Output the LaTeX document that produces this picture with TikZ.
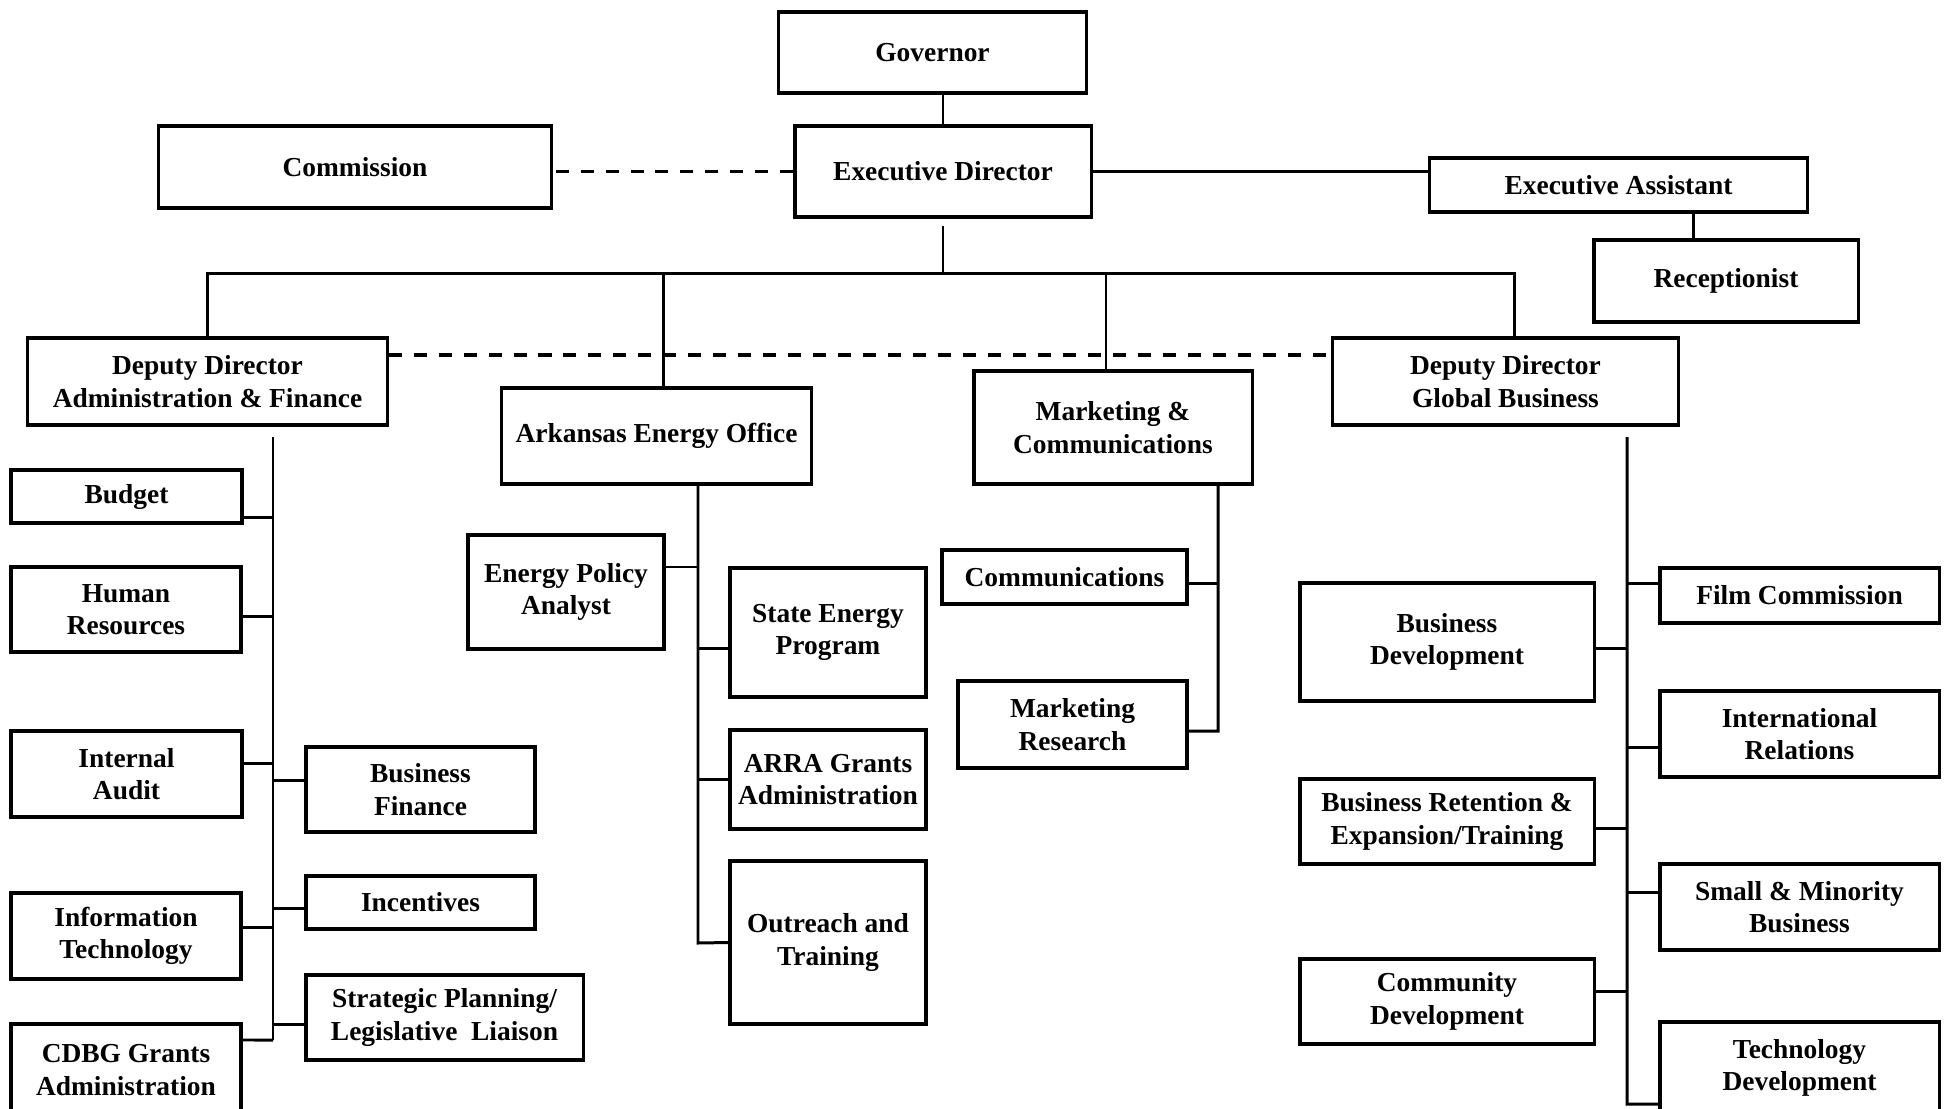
\documentclass[tikz,border=0pt]{standalone}
\usepackage{fontspec}
\setmainfont{Liberation Serif}

\begin{document}
\begin{tikzpicture}[x=0.01cm,y=-0.01cm,font=\bfseries\fontsize{7.8}{9.2}\selectfont,
    box/.style={draw,line width=0.9pt,align=center,inner sep=1pt},
    conn/.style={line width=0.85pt},
    link/.style={line width=0.9pt,dash pattern=on 3.7pt off 3.4pt}]
                \useasboundingbox (0,0) rectangle (1950,1108);
                % top of the chart
                \node[box,minimum width=3.07cm,minimum height=0.81cm] (gov) at (932.5,52.5) {Governor};
                \node[box,minimum width=2.96cm,minimum height=0.91cm] (exd) at (943,171.5) {Executive Director};
                \node[box,minimum width=3.92cm,minimum height=0.82cm] (com) at (355,167) {Commission};
                \node[box,minimum width=3.77cm,minimum height=0.54cm] (ea) at (1618.5,185) {Executive Assistant};
                \node[box,minimum width=2.64cm,minimum height=0.82cm] (rec) at (1726,281) {Receptionist};
                \node[box,minimum width=3.59cm,minimum height=0.87cm] (ddaf) at (207.5,381.5) {Deputy Director\\Administration \& Finance};
                \node[box,minimum width=3.09cm,minimum height=0.96cm] (aeo) at (656.5,436) {Arkansas Energy Office};
                \node[box,minimum width=2.78cm,minimum height=1.13cm] (mc) at (1113,427.5) {Marketing \&\\Communications};
                \node[box,minimum width=3.45cm,minimum height=0.87cm] (ddgb) at (1505.5,381.5) {Deputy Director\\Global Business};
                % administration & finance
                \node[box,minimum width=2.31cm,minimum height=0.53cm] (bud) at (126.5,496.5) {Budget};
                \node[box,minimum width=2.30cm,minimum height=0.85cm] (hr) at (126,609.5) {Human\\Resources};
                \node[box,minimum width=2.31cm,minimum height=0.86cm] (ia) at (126.5,774) {Internal\\Audit};
                \node[box,minimum width=2.29cm,minimum height=0.85cm] (bf) at (420.5,789.5) {Business\\Finance};
                \node[box,minimum width=2.29cm,minimum height=0.53cm] (inc) at (420.5,902.5) {Incentives};
                \node[box,minimum width=2.30cm,minimum height=0.86cm] (it) at (126,936) {Information\\Technology};
                \node[box,minimum width=2.77cm,minimum height=0.85cm] (spl) at (444.5,1017.5) {Strategic Planning/\\Legislative\ \ Liaison};
                \node[box,minimum width=2.30cm,minimum height=0.92cm] (cdbg) at (126,1070) {CDBG Grants\\Administration};
                % energy office
                \node[box,minimum width=1.96cm,minimum height=1.14cm] (epa) at (566,592) {Energy Policy\\Analyst};
                \node[box,minimum width=1.96cm,minimum height=1.29cm] (sep) at (828,632.5) {State Energy\\Program};
                \node[box,minimum width=1.96cm,minimum height=0.99cm] (arra) at (828,779.5) {ARRA Grants\\Administration};
                \node[box,minimum width=1.96cm,minimum height=1.63cm] (ot) at (828,942.5) {Outreach and\\Training};
                % marketing
                \node[box,minimum width=2.45cm,minimum height=0.54cm] (comm) at (1064.5,577) {Communications};
                \node[box,minimum width=2.29cm,minimum height=0.87cm] (mr) at (1072.5,724.5) {Marketing\\Research};
                % global business
                \node[box,minimum width=2.94cm,minimum height=1.18cm] (bd) at (1447,642) {Business\\Development};
                \node[box,minimum width=2.79cm,minimum height=0.55cm] (fc) at (1799.5,595.5) {Film Commission};
                \node[box,minimum width=2.79cm,minimum height=0.86cm] (ir) at (1799.5,734) {International\\Relations};
                \node[box,minimum width=2.94cm,minimum height=0.85cm] (bre) at (1447,821.5) {Business Retention \&\\Expansion/Training};
                \node[box,minimum width=2.79cm,minimum height=0.86cm] (smb) at (1799.5,907) {Small \& Minority\\Business};
                \node[box,minimum width=2.94cm,minimum height=0.85cm] (cd) at (1447,1001.5) {Community\\Development};
                \node[box,minimum width=2.79cm,minimum height=0.92cm] (td) at (1799.5,1068) {Technology\\Development};
                % spines
                \coordinate (busL) at (207.5,273);
                \coordinate (busR) at (1514,273);
                \coordinate (adminTop) at (273,437);
                \coordinate (adminBot) at (273,1040);
                \coordinate (energyBot) at (698,943);
                \coordinate (mktBot) at (1218,731);
                \coordinate (globTop) at (1627,437);
                \coordinate (globBot) at (1627,1104);
                % top links
                \draw[conn] (exd.north) -- (exd.north |- gov.south);
                \draw[link] (exd.west) -- (exd.west -| com.east);
                \draw[conn] (exd.east) -- (exd.east -| ea.west);
                \draw[conn] ([xshift=-0.32cm]rec.north) -- ([xshift=-0.32cm]rec.north |- ea.south);
                \draw[conn,shorten <=0.07cm] (exd.south) -- (exd.south |- busL);
                \draw[conn] (ddaf.north) -- (busL) -- (busR) -- (busR |- ddgb.north);
                \draw[conn] ([xshift=0.065cm]aeo.north) -- ([xshift=0.065cm]aeo.north |- busL);
                \draw[conn] ([xshift=-0.07cm]mc.north) -- ([xshift=-0.07cm]mc.north |- busL);
                \draw[link] ([yshift=0.265cm]ddaf.east) -- ([yshift=0.265cm]ddgb.west);
                % administration & finance branches
                \draw[conn] (adminTop) -- (adminBot);
                \draw[conn] ([yshift=-0.205cm]bud.east) -- ([yshift=-0.205cm]bud.east -| adminTop);
                \draw[conn] ([yshift=-0.065cm]hr.east) -- ([yshift=-0.065cm]hr.east -| adminTop);
                \draw[conn] ([yshift=0.11cm]ia.east) -- ([yshift=0.11cm]ia.east -| adminTop);
                \draw[conn] ([yshift=0.09cm]it.east) -- ([yshift=0.09cm]it.east -| adminTop);
                \draw[conn] ([yshift=0.3cm]cdbg.east) -- (adminBot);
                \draw[conn] ([yshift=0.095cm]bf.west) -- ([yshift=0.095cm]bf.west -| adminTop);
                \draw[conn] ([yshift=-0.055cm]inc.west) -- ([yshift=-0.055cm]inc.west -| adminTop);
                \draw[conn] ([yshift=-0.065cm]spl.west) -- ([yshift=-0.065cm]spl.west -| adminTop);
                % energy office branches
                \draw[conn] (aeo.south -| energyBot) -- (energyBot) -- (ot.west);
                \draw[conn] ([yshift=0.25cm]epa.east) -- ([yshift=0.25cm]epa.east -| energyBot);
                \draw[conn] ([yshift=-0.155cm]sep.west) -- ([yshift=-0.155cm]sep.west -| energyBot);
                \draw[conn] (arra.west) -- (arra.west -| energyBot);
                % marketing branches
                \draw[conn] (mc.south -| mktBot) -- (mktBot) -- ([yshift=-0.065cm]mr.east);
                \draw[conn] ([yshift=-0.06cm]comm.east) -- ([yshift=-0.06cm]comm.east -| mktBot);
                % global business branches
                \draw[conn] (globTop) -- (globBot) -- ([yshift=-0.36cm]td.west);
                \draw[conn] ([yshift=-0.06cm]bd.east) -- ([yshift=-0.06cm]bd.east -| globTop);
                \draw[conn] ([yshift=-0.065cm]bre.east) -- ([yshift=-0.065cm]bre.east -| globTop);
                \draw[conn] ([yshift=0.105cm]cd.east) -- ([yshift=0.105cm]cd.east -| globTop);
                \draw[conn] ([yshift=0.125cm]fc.west) -- ([yshift=0.125cm]fc.west -| globTop);
                \draw[conn] ([yshift=-0.13cm]ir.west) -- ([yshift=-0.13cm]ir.west -| globTop);
                \draw[conn] ([yshift=0.15cm]smb.west) -- ([yshift=0.15cm]smb.west -| globTop);
            \end{tikzpicture}
\end{document}
